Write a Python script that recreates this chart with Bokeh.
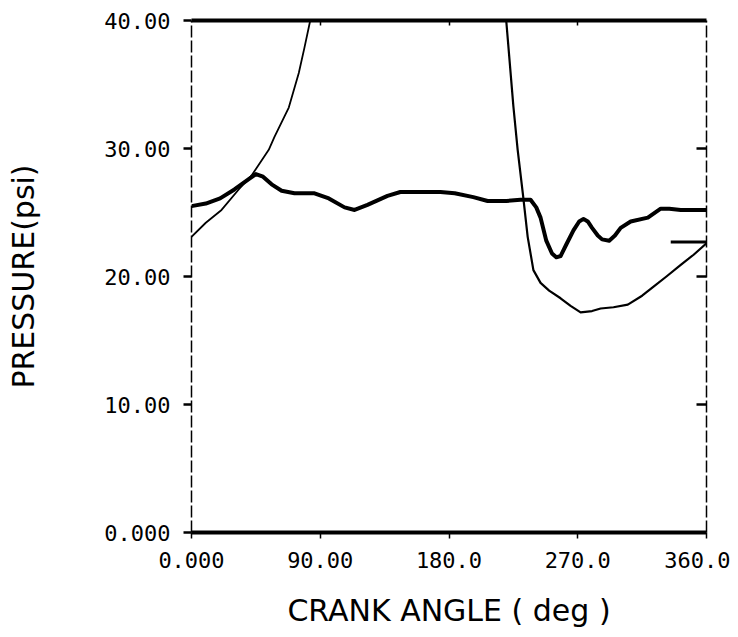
from bokeh.plotting import figure
from bokeh.models import Range1d, LinearAxis, FixedTicker
from bokeh.embed import file_html
from bokeh.resources import INLINE

# ---- tick values / labels ----
crank_ticks = [0, 90, 180, 270, 360]
crank_tick_labels = ["0.000", "90.00", "180.0", "270.0", "360.0"]
pressure_ticks = [0, 10, 20, 30, 40]
pressure_tick_labels = ["0.000", "10.00", "20.00", "30.00", "40.00"]
top_inner_ticks = [90, 180, 270]
right_inner_ticks = [10, 20, 30]

# ---- thick trace (manifold pressure) ----
manifold_deg = [0, 10, 20, 30, 40, 45, 50, 56, 63, 72, 86, 96, 107, 114, 123,
                137, 146, 160, 174, 184, 197, 207, 220, 230, 237, 241, 244,
                248, 252, 255, 258, 262, 267, 271, 274, 277, 280, 284, 287,
                292, 296, 300, 307, 319, 328, 334, 342, 350, 360]
manifold_psi = [25.5, 25.7, 26.1, 26.8, 27.6, 28.0, 27.8, 27.2, 26.7, 26.5,
                26.5, 26.1, 25.4, 25.2, 25.6, 26.3, 26.6, 26.6, 26.6, 26.5,
                26.2, 25.9, 25.9, 26.0, 26.0, 25.4, 24.6, 22.8, 21.8, 21.5,
                21.6, 22.5, 23.6, 24.3, 24.5, 24.3, 23.8, 23.2, 22.9, 22.8,
                23.2, 23.8, 24.3, 24.6, 25.3, 25.3, 25.2, 25.2, 25.2]

# ---- thin trace (cylinder pressure), rising part and falling part ----
cyl_rise_deg = [0, 10, 21, 33, 42, 54, 58, 68, 75, 79, 83]
cyl_rise_psi = [23.1, 24.2, 25.2, 26.8, 27.9, 29.9, 30.9, 33.2, 35.9, 37.9, 40.0]
cyl_fall_deg = [220, 225, 228, 231.6, 235, 239, 244, 250, 258, 265, 272, 280,
                286, 295, 305, 315, 323, 332, 342, 351, 360]
cyl_fall_psi = [40.0, 33.3, 29.9, 26.5, 23.1, 20.5, 19.5, 18.9, 18.3, 17.7,
                17.2, 17.3, 17.5, 17.6, 17.8, 18.5, 19.2, 20.0, 20.9, 21.7, 22.6]

# ---- short end mark ----
end_mark_deg = [335, 360]
end_mark_psi = [22.7, 22.7]

p = figure(width=730, height=632,
           x_range=Range1d(0, 360), y_range=Range1d(0, 40),
           output_backend="svg", toolbar_location=None,
           x_axis_location=None, y_axis_location=None,
           min_border_left=191, min_border_right=24,
           min_border_top=20, min_border_bottom=100)
p.outline_line_color = None
p.grid.visible = False
p.background_fill_color = "white"
p.border_fill_color = "white"

tick_font = "DejaVu Sans Mono"
label_font = "DejaVu Sans"

left = LinearAxis(ticker=FixedTicker(ticks=pressure_ticks),
                  major_label_overrides={t: s for t, s in zip(pressure_ticks, pressure_tick_labels)},
                  axis_label="PRESSURE(psi)")
left.axis_line_width = 1.5
left.axis_line_dash = "12 3"
left.major_tick_out = 8
left.major_tick_in = 0
left.major_tick_line_width = 2.5
left.major_label_standoff = 13
left.major_label_text_font = tick_font
left.major_label_text_font_size = "22px"
left.major_label_text_color = "black"
left.axis_label_text_font = label_font
left.axis_label_text_font_size = "30px"
left.axis_label_text_font_style = "normal"
left.axis_label_text_color = "black"
left.axis_label_standoff = 60
p.add_layout(left, "left")

bottom = LinearAxis(ticker=FixedTicker(ticks=crank_ticks),
                    major_label_overrides={t: s for t, s in zip(crank_ticks, crank_tick_labels)},
                    axis_label="CRANK ANGLE ( deg )")
bottom.axis_line_width = 4
bottom.major_tick_out = 6
bottom.major_tick_in = 0
bottom.major_tick_line_width = 1.5
bottom.major_label_standoff = 13
bottom.major_label_text_font = tick_font
bottom.major_label_text_font_size = "22px"
bottom.major_label_text_color = "black"
bottom.axis_label_text_font = label_font
bottom.axis_label_text_font_size = "30px"
bottom.axis_label_text_font_style = "normal"
bottom.axis_label_text_color = "black"
bottom.axis_label_standoff = 22
p.add_layout(bottom, "below")

top = LinearAxis(ticker=FixedTicker(ticks=top_inner_ticks))
top.axis_line_width = 4
top.major_tick_in = 5
top.major_tick_out = 0
top.major_tick_line_width = 1.5
top.major_label_text_color = None
top.major_label_text_font_size = "1px"
top.major_label_standoff = 0
p.add_layout(top, "above")

right = LinearAxis(ticker=FixedTicker(ticks=right_inner_ticks))
right.axis_line_width = 1.5
right.axis_line_dash = "12 3"
right.major_tick_in = 10
right.major_tick_out = 0
right.major_tick_line_width = 2.5
right.major_label_text_color = None
right.major_label_text_font_size = "1px"
right.major_label_standoff = 0
p.add_layout(right, "right")

p.line(manifold_deg, manifold_psi, line_width=4, line_color="black", line_join="round")
p.line(cyl_rise_deg, cyl_rise_psi, line_width=1.8, line_color="black")
p.line(cyl_fall_deg, cyl_fall_psi, line_width=2.2, line_color="black", line_join="round")
p.line(end_mark_deg, end_mark_psi, line_width=3, line_color="black")

open("out.html", "w").write(file_html(p, INLINE))
